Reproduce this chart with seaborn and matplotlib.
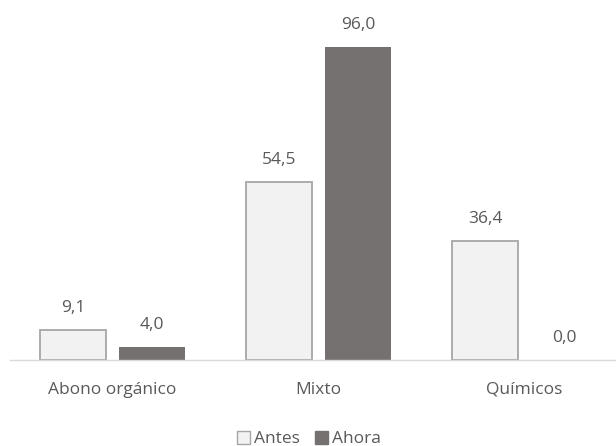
import matplotlib
matplotlib.use("Agg")
import matplotlib.pyplot as plt
import seaborn as sns
import pandas as pd
from matplotlib.patches import Patch

categories = ["Abono orgánico", "Mixto", "Químicos"]
antes = [9.1, 54.5, 36.4]
ahora = [4.0, 96.0, 0.0]
series = ["Antes", "Ahora"]

df = pd.DataFrame({
    "cat": categories * 2,
    "val": antes + ahora,
    "serie": [series[0]] * 3 + [series[1]] * 3,
})

sns.set_theme(style="white")
plt.rcParams['font.family'] = ['Open Sans', 'DejaVu Sans']
txt = "#595959"
fs = 12.5

fig = plt.figure(figsize=(6.16, 4.46), dpi=100)
ax = fig.add_axes([9.5/616, (446-360)/446, 618/616, 350/446])
palette = {"Antes": "#F2F2F2", "Ahora": "#767171"}
sns.barplot(data=df, x="cat", y="val", hue="serie", palette=palette, ax=ax,
            width=0.767, gap=0.175, saturation=1, legend=False)
for i, cont in enumerate(ax.containers):
    for p in cont:
        if i == 0:
            p.set_edgecolor("#A6A6A6")
            p.set_linewidth(1.3)
        else:
            p.set_edgecolor("#767171")
            p.set_linewidth(0)
    ax.bar_label(cont, labels=[f"{v:.1f}".replace(".", ",") for v in cont.datavalues],
                 padding=10, fontsize=fs, color=txt)

ax.set_ylim(0, 350/3.26)
ax.set_xlim(-0.5, 2.5)
for s in ["top", "right", "left"]:
    ax.spines[s].set_visible(False)
ax.spines["bottom"].set_color("#D9D9D9")
ax.spines["bottom"].set_linewidth(1)
ax.set_yticks([])
ax.set_xlabel("")
ax.set_ylabel("")
ax.tick_params(axis="x", length=0, pad=15.5, labelsize=fs, labelcolor=txt)

handles = [Patch(facecolor="#F2F2F2", edgecolor="#A6A6A6", label="Antes"),
           Patch(facecolor="#767171", edgecolor="#767171", label="Ahora")]
fig.legend(handles=handles, loc="center", bbox_to_anchor=(309/616, 1 - 439/446), ncol=2,
           frameon=False, fontsize=fs, labelcolor=txt, handlelength=0.75, handleheight=0.75,
           handletextpad=0.2, columnspacing=0.9)

fig.savefig("out.png", dpi=100)
